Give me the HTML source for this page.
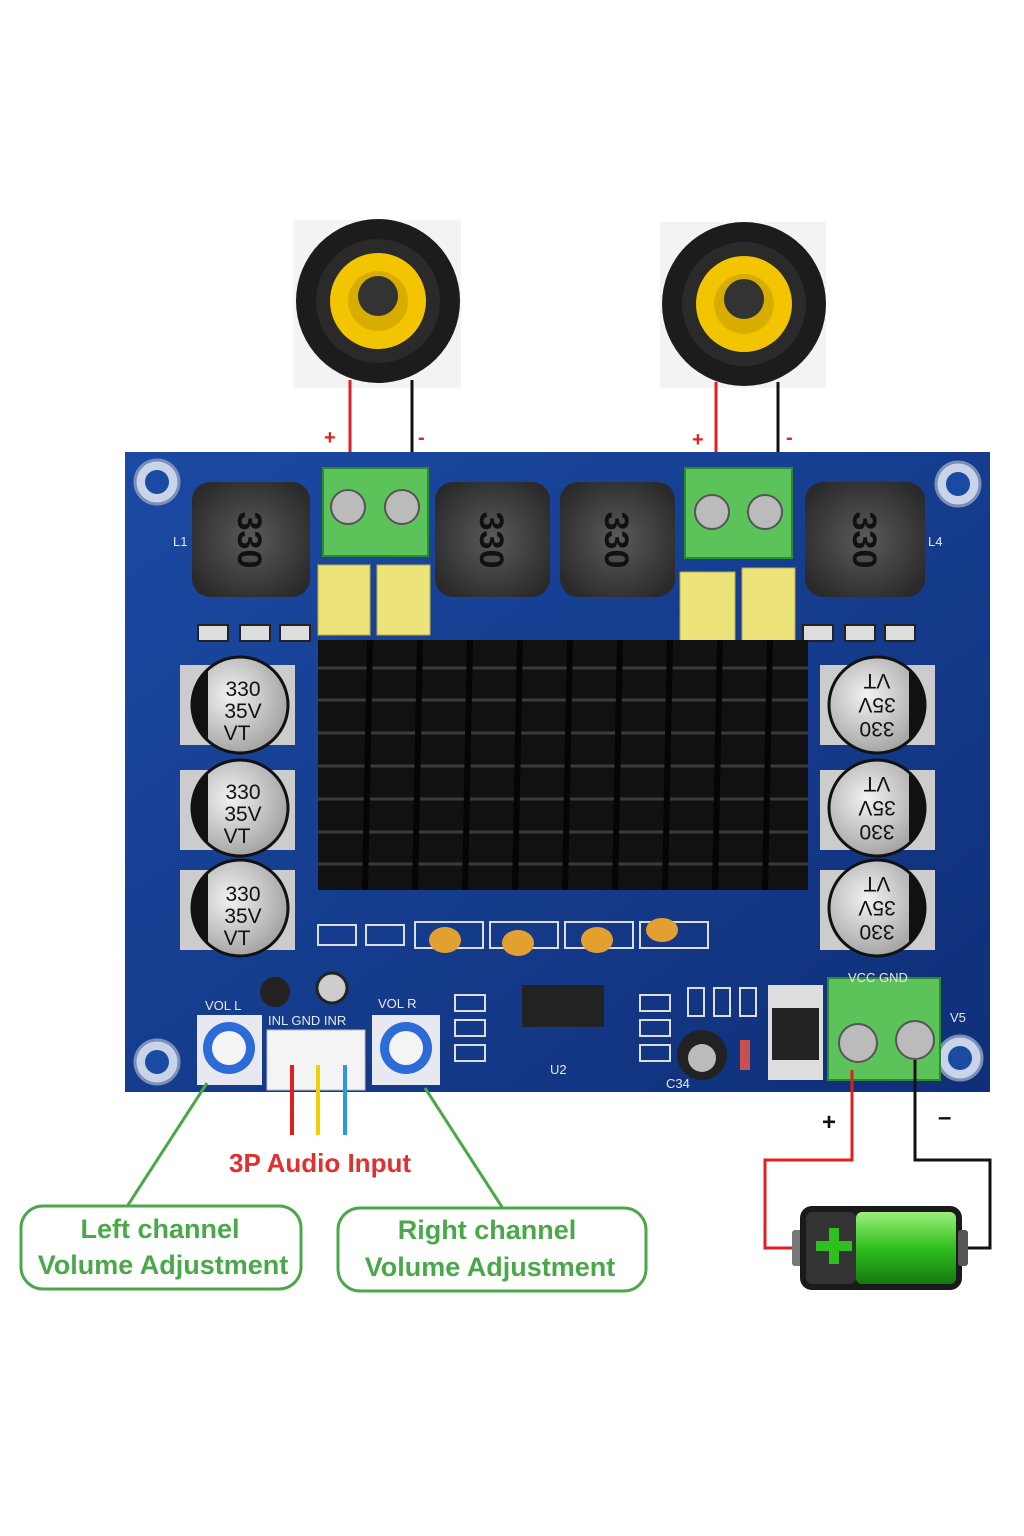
<!DOCTYPE html>
<html><head><meta charset="utf-8"><style>
html,body{margin:0;padding:0;background:#fff;}
svg{display:block;}
text{font-family:"Liberation Sans",sans-serif;}
</style></head><body>
<svg width="1024" height="1536" viewBox="0 0 1024 1536" xmlns="http://www.w3.org/2000/svg">
<defs>
<radialGradient id="cap" cx="0.4" cy="0.4" r="0.7"><stop offset="0" stop-color="#f2f2f2"/><stop offset="1" stop-color="#9a9a9a"/></radialGradient>
<radialGradient id="ind" cx="0.5" cy="0.5" r="0.6"><stop offset="0" stop-color="#5a5a5a"/><stop offset="1" stop-color="#2a2a2a"/></radialGradient>
<linearGradient id="batt" x1="0" y1="0" x2="0" y2="1"><stop offset="0" stop-color="#9cf07a"/><stop offset="0.5" stop-color="#2fbf1f"/><stop offset="1" stop-color="#157a10"/></linearGradient>
<linearGradient id="board" x1="0" y1="0" x2="1" y2="1"><stop offset="0" stop-color="#1b4aa3"/><stop offset="1" stop-color="#0f2f78"/></linearGradient>
</defs>

<!-- speakers -->
<g>
<rect x="293" y="220" width="168" height="168" fill="#f3f3f3"/>
<circle cx="378" cy="301" r="82" fill="#1c1c1c"/>
<circle cx="378" cy="301" r="62" fill="#2a2a2a"/>
<circle cx="378" cy="301" r="48" fill="#f2c500"/>
<circle cx="378" cy="301" r="30" fill="#d9ad00"/>
<circle cx="378" cy="296" r="20" fill="#333"/>
<rect x="660" y="222" width="166" height="166" fill="#f3f3f3"/>
<circle cx="744" cy="304" r="82" fill="#1c1c1c"/>
<circle cx="744" cy="304" r="62" fill="#2a2a2a"/>
<circle cx="744" cy="304" r="48" fill="#f2c500"/>
<circle cx="744" cy="304" r="30" fill="#d9ad00"/>
<circle cx="744" cy="299" r="20" fill="#333"/>
</g>
<!-- speaker wires -->
<line x1="350" y1="380" x2="350" y2="495" stroke="#e02020" stroke-width="3"/>
<line x1="412" y1="380" x2="412" y2="495" stroke="#111" stroke-width="3"/>
<line x1="716" y1="382" x2="716" y2="495" stroke="#e02020" stroke-width="3"/>
<line x1="778" y1="382" x2="778" y2="495" stroke="#111" stroke-width="3"/>
<text x="324" y="444" font-size="20" font-weight="bold" fill="#e02020">+</text>
<text x="418" y="444" font-size="20" font-weight="bold" fill="#e02020">-</text>
<text x="692" y="446" font-size="20" font-weight="bold" fill="#e02020">+</text>
<text x="786" y="444" font-size="20" font-weight="bold" fill="#e02020">-</text>

<!-- board -->
<rect x="125" y="452" width="865" height="640" fill="url(#board)"/>
<g fill="#c9d4e8" stroke="#7d8fb8" stroke-width="3">
<circle cx="157" cy="482" r="22"/><circle cx="958" cy="484" r="22"/>
<circle cx="157" cy="1062" r="22"/><circle cx="960" cy="1058" r="22"/>
</g>
<g fill="#1b4aa3"><circle cx="157" cy="482" r="12"/><circle cx="958" cy="484" r="12"/><circle cx="157" cy="1062" r="12"/><circle cx="960" cy="1058" r="12"/></g>

<!-- inductors -->
<g>
<rect x="192" y="482" width="118" height="115" rx="18" fill="url(#ind)"/>
<rect x="435" y="482" width="115" height="115" rx="18" fill="url(#ind)"/>
<rect x="560" y="482" width="115" height="115" rx="18" fill="url(#ind)"/>
<rect x="805" y="482" width="120" height="115" rx="18" fill="url(#ind)"/>
</g>
<g font-size="34" fill="#111" font-weight="bold">
<text x="250" y="552" text-anchor="middle" transform="rotate(90 250 540)">330</text>
<text x="492" y="552" text-anchor="middle" transform="rotate(90 492 540)">330</text>
<text x="617" y="552" text-anchor="middle" transform="rotate(90 617 540)">330</text>
<text x="865" y="552" text-anchor="middle" transform="rotate(90 865 540)">330</text>
</g>

<!-- green terminals -->
<g fill="#5cc35a" stroke="#2e8a2e" stroke-width="2">
<rect x="323" y="468" width="105" height="88"/>
<rect x="685" y="468" width="107" height="90"/>
<rect x="828" y="978" width="112" height="102"/>
</g>
<g fill="#bbb" stroke="#555" stroke-width="2">
<circle cx="348" cy="507" r="17"/><circle cx="402" cy="507" r="17"/>
<circle cx="712" cy="512" r="17"/><circle cx="765" cy="512" r="17"/>
<circle cx="858" cy="1043" r="19"/><circle cx="915" cy="1040" r="19"/>
</g>

<!-- yellow caps -->
<g fill="#ece37a" stroke="#b8ad40">
<rect x="318" y="565" width="52" height="70"/>
<rect x="377" y="565" width="53" height="70"/>
<rect x="680" y="572" width="55" height="83"/>
<rect x="742" y="568" width="53" height="87"/>
</g>

<!-- small smd row -->
<g fill="#ddd" stroke="#222" stroke-width="2">
<rect x="198" y="625" width="30" height="16"/><rect x="240" y="625" width="30" height="16"/><rect x="280" y="625" width="30" height="16"/>
<rect x="803" y="625" width="30" height="16"/><rect x="845" y="625" width="30" height="16"/><rect x="885" y="625" width="30" height="16"/>
</g>

<!-- heatsink -->
<rect x="318" y="640" width="490" height="250" fill="#111"/>
<g stroke="#3a3a3a" stroke-width="3">
<line x1="318" y1="668" x2="808" y2="668"/><line x1="318" y1="700" x2="808" y2="700"/>
<line x1="318" y1="733" x2="808" y2="733"/><line x1="318" y1="766" x2="808" y2="766"/>
<line x1="318" y1="799" x2="808" y2="799"/><line x1="318" y1="832" x2="808" y2="832"/>
<line x1="318" y1="864" x2="808" y2="864"/>
</g>
<g stroke="#050505" stroke-width="6">
<line x1="370" y1="640" x2="365" y2="890"/><line x1="420" y1="640" x2="415" y2="890"/>
<line x1="470" y1="640" x2="465" y2="890"/><line x1="520" y1="640" x2="515" y2="890"/>
<line x1="570" y1="640" x2="565" y2="890"/><line x1="620" y1="640" x2="615" y2="890"/>
<line x1="670" y1="640" x2="665" y2="890"/><line x1="720" y1="640" x2="715" y2="890"/>
<line x1="770" y1="640" x2="765" y2="890"/>
</g>

<!-- electrolytic caps -->
<g>
<rect x="180" y="665" width="115" height="80" fill="#ccc"/>
<rect x="180" y="770" width="115" height="80" fill="#ccc"/>
<rect x="180" y="870" width="115" height="80" fill="#ccc"/>
<rect x="820" y="665" width="115" height="80" fill="#ccc"/>
<rect x="820" y="770" width="115" height="80" fill="#ccc"/>
<rect x="820" y="870" width="115" height="80" fill="#ccc"/>
<g fill="url(#cap)" stroke="#111" stroke-width="3">
<circle cx="240" cy="705" r="48"/><circle cx="240" cy="808" r="48"/><circle cx="240" cy="908" r="48"/>
<circle cx="877" cy="705" r="48"/><circle cx="877" cy="808" r="48"/><circle cx="877" cy="908" r="48"/>
</g>
<g fill="#111">
<path d="M208 670 A48 48 0 0 0 208 740 Z"/><path d="M208 773 A48 48 0 0 0 208 843 Z"/><path d="M208 873 A48 48 0 0 0 208 943 Z"/>
<path d="M909 670 A48 48 0 0 1 909 740 Z"/><path d="M909 773 A48 48 0 0 1 909 843 Z"/><path d="M909 873 A48 48 0 0 1 909 943 Z"/>
</g>
<g font-size="21" fill="#111" text-anchor="middle">
<text x="243" y="696">330</text><text x="243" y="718">35V</text><text x="237" y="740">VT</text>
<text x="243" y="799">330</text><text x="243" y="821">35V</text><text x="237" y="843">VT</text>
<text x="243" y="901">330</text><text x="243" y="923">35V</text><text x="237" y="945">VT</text>
</g>
<g font-size="21" fill="#111" text-anchor="middle">
<text x="877" y="688" transform="rotate(180 877 705)">330</text>
<text x="877" y="712" transform="rotate(180 877 705)">35V</text>
<text x="877" y="736" transform="rotate(180 877 705)">VT</text>
<text x="877" y="791" transform="rotate(180 877 808)">330</text>
<text x="877" y="815" transform="rotate(180 877 808)">35V</text>
<text x="877" y="839" transform="rotate(180 877 808)">VT</text>
<text x="877" y="891" transform="rotate(180 877 908)">330</text>
<text x="877" y="915" transform="rotate(180 877 908)">35V</text>
<text x="877" y="939" transform="rotate(180 877 908)">VT</text>
</g>
</g>

<!-- ceramic caps row -->
<g fill="none" stroke="#ddd" stroke-width="2">
<rect x="318" y="925" width="38" height="20"/><rect x="366" y="925" width="38" height="20"/>
<rect x="415" y="922" width="68" height="26"/><rect x="490" y="922" width="68" height="26"/>
<rect x="565" y="922" width="68" height="26"/><rect x="640" y="922" width="68" height="26"/>
</g>
<g fill="#e2a030"><ellipse cx="445" cy="940" rx="16" ry="13"/><ellipse cx="518" cy="943" rx="16" ry="13"/><ellipse cx="597" cy="940" rx="16" ry="13"/><ellipse cx="662" cy="930" rx="16" ry="12"/></g>

<!-- lower components -->
<circle cx="275" cy="992" r="15" fill="#222"/><circle cx="332" cy="988" r="15" fill="#ccc" stroke="#222" stroke-width="3"/>
<rect x="522" y="985" width="82" height="42" fill="#222"/>
<rect x="768" y="985" width="55" height="95" fill="#ddd"/><rect x="772" y="1008" width="47" height="52" fill="#222"/>
<circle cx="702" cy="1055" r="25" fill="#222"/><circle cx="702" cy="1058" r="14" fill="#bbb"/>
<rect x="740" y="1040" width="10" height="30" fill="#c85050"/>
<g fill="none" stroke="#ddd" stroke-width="2">
<rect x="455" y="995" width="30" height="16"/><rect x="455" y="1020" width="30" height="16"/><rect x="455" y="1045" width="30" height="16"/>
<rect x="640" y="995" width="30" height="16"/><rect x="640" y="1020" width="30" height="16"/><rect x="640" y="1045" width="30" height="16"/>
<rect x="688" y="988" width="16" height="28"/><rect x="714" y="988" width="16" height="28"/><rect x="740" y="988" width="16" height="28"/>
</g>
<g font-size="13" fill="#e8e8e8">
<text x="205" y="1010">VOL L</text><text x="378" y="1008">VOL R</text><text x="268" y="1025">INL GND INR</text>
<text x="848" y="982">VCC GND</text><text x="950" y="1022">V5</text><text x="173" y="546">L1</text><text x="928" y="546">L4</text>
<text x="550" y="1074">U2</text><text x="666" y="1088">C34</text>
</g>
<!-- pots -->
<rect x="197" y="1015" width="65" height="70" fill="#e8e8f0"/><circle cx="229" cy="1048" r="26" fill="#2c6bd8"/><circle cx="229" cy="1048" r="17" fill="#f4f4f4"/>
<rect x="372" y="1015" width="68" height="70" fill="#e8e8f0"/><circle cx="406" cy="1048" r="26" fill="#2c6bd8"/><circle cx="406" cy="1048" r="17" fill="#f4f4f4"/>
<!-- 3P connector -->
<rect x="267" y="1030" width="98" height="60" fill="#f4f4f4" stroke="#bbb"/>

<!-- audio wires -->
<line x1="292" y1="1065" x2="292" y2="1135" stroke="#e02020" stroke-width="4"/>
<line x1="318" y1="1065" x2="318" y2="1135" stroke="#f0d000" stroke-width="4"/>
<line x1="345" y1="1065" x2="345" y2="1135" stroke="#2a9ae0" stroke-width="4"/>
<text x="320" y="1172" font-size="26" font-weight="bold" fill="#e03030" text-anchor="middle">3P Audio Input</text>

<!-- callout lines -->
<line x1="207" y1="1083" x2="128" y2="1205" stroke="#4aa84a" stroke-width="3"/>
<line x1="425" y1="1088" x2="502" y2="1207" stroke="#4aa84a" stroke-width="3"/>
<rect x="21" y="1206" width="280" height="83" rx="22" fill="#fff" stroke="#4aa84a" stroke-width="3"/>
<rect x="338" y="1208" width="308" height="83" rx="22" fill="#fff" stroke="#4aa84a" stroke-width="3"/>
<g font-size="27" font-weight="bold" fill="#4aa84a" text-anchor="middle">
<text x="160" y="1238">Left channel</text><text x="163" y="1274">Volume Adjustment</text>
<text x="487" y="1239">Right channel</text><text x="490" y="1276">Volume Adjustment</text>
</g>

<!-- power wires -->
<polyline points="852,1070 852,1160 765,1160 765,1248 797,1248" fill="none" stroke="#e02020" stroke-width="3"/>
<polyline points="915,1060 915,1160 990,1160 990,1248 962,1248" fill="none" stroke="#111" stroke-width="3"/>
<text x="822" y="1130" font-size="24" font-weight="bold" fill="#111">+</text>
<text x="938" y="1125" font-size="24" font-weight="bold" fill="#111">–</text>
<!-- battery -->
<rect x="792" y="1230" width="12" height="36" rx="3" fill="#777"/>
<rect x="800" y="1206" width="162" height="84" rx="12" fill="#1a1a1a"/>
<rect x="806" y="1212" width="50" height="72" rx="6" fill="#333"/>
<rect x="856" y="1212" width="100" height="72" rx="6" fill="url(#batt)"/>
<rect x="816" y="1241" width="36" height="10" fill="#2fbf1f"/><rect x="829" y="1228" width="10" height="36" fill="#2fbf1f"/>
<rect x="958" y="1230" width="10" height="36" rx="3" fill="#555"/>
</svg>
</body></html>
